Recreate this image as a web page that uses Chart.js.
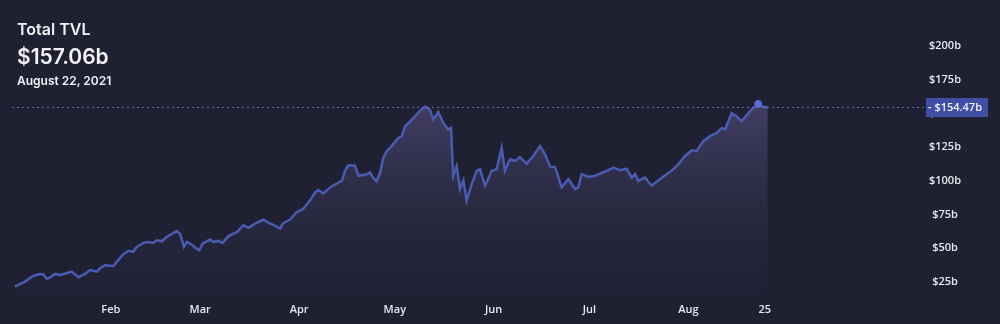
<!DOCTYPE html>
<html>
<head>
<meta charset="utf-8">
<script src="https://cdn.jsdelivr.net/npm/chart.js@4.4.0/dist/chart.umd.min.js"></script>
<style>
  html, body { margin: 0; padding: 0; background: #1f2133; }
  #wrap { position: relative; width: 1000px; height: 324px; overflow: hidden; }
  #tvl-chart { position: absolute; left: 0; top: 0; }
  .head { position: absolute; left: 17px; color: #f2f2f6; font-family: Inter, sans-serif; line-height: 1; white-space: nowrap; }
</style>
</head>
<body>
<div id="wrap">
  <canvas id="tvl-chart" width="1000" height="324"></canvas>
  <div class="head" style="top:20.5px;font-size:16px;font-weight:600">Total TVL</div>
  <div class="head" style="top:45.5px;font-size:21px;font-weight:600">$157.06b</div>
  <div class="head" style="top:74.5px;font-size:12px;font-weight:600">August 22, 2021</div>
</div>
<script>
// days since Jan 1 2021, TVL in billions
var days = [0.9,4.1,6.6,8.8,9.7,10.9,11.9,13.5,15.0,17.1,18.7,20.8,22.9,24.5,26.6,27.6,29.2,31.8,33.3,34.9,
  36.5,38.0,39.1,41.2,42.7,44.3,45.4,46.9,48.5,50.6,51.6,52.7,53.9,54.8,56.3,57.4,58.7,59.8,62.1,63.1,
  64.7,66.0,67.8,69.4,70.6,72.5,74.1,76.2,78.8,80.9,82.4,84.0,85.0,87.1,89.2,91.3,93.4,95.0,96.0,97.6,
  99.7,101.8,103.4,104.4,105.4,107.5,108.6,111.2,112.2,113.3,114.3,115.4,116.4,117.5,119.0,121.1,122.2,123.2,124.8,126.3,
  127.9,129.5,131.0,132.1,133.6,135.2,136.8,137.6,138.3,139.4,140.4,141.5,142.5,144.1,145.7,146.7,148.3,150.4,151.9,153.5,
  154.5,156.1,157.7,159.2,161.3,163.4,165.5,167.1,168.7,170.2,172.3,174.4,176.5,177.5,178.6,180.7,182.8,184.3,186.4,188.5,
  190.6,192.7,194.3,195.3,196.3,198.4,200.5,203.1,205.2,207.3,208.9,211.0,213.1,214.6,216.7,218.8,220.9,222.5,223.5,225.6,
  227.2,228.7,231.3,232.9,233.9,235.0,236.9];
var tvl = [21.5,25.2,29.4,30.9,30.7,27.4,28.2,30.9,30.1,31.4,32.6,28.5,30.9,33.8,32.6,35.1,37.3,36.8,41.2,45.6,
  48.0,47.3,51.0,53.9,54.6,53.9,55.9,55.1,58.3,61.3,62.7,60.8,51.0,54.6,52.7,50.5,48.5,53.5,56.4,54.6,
  55.4,53.9,58.8,60.8,62.0,67.0,65.2,68.2,71.1,68.2,66.7,64.5,68.6,71.1,76.7,79.2,85.3,91.4,93.2,90.7,
  95.1,98.0,100.0,107.4,111.5,111.3,103.7,104.9,106.1,102.0,99.7,106.1,116.9,122.1,125.7,131.8,133.1,140.4,144.1,147.8,
  152.0,155.1,152.7,145.4,151.0,142.9,138.0,139.2,103.7,111.0,93.9,100.5,85.3,97.6,107.4,108.6,96.3,107.4,108.6,124.5,
  107.4,116.0,114.7,117.6,112.7,118.4,125.7,119.6,110.5,110.3,95.1,101.2,93.9,95.1,104.9,102.9,103.7,105.4,107.4,109.8,
  107.9,109.0,102.4,104.9,100.0,102.4,96.3,101.2,104.9,108.6,112.3,118.4,122.6,122.1,129.4,133.1,135.5,139.2,138.0,150.2,
  147.8,144.1,151.5,155.1,157.06,155.1,154.47];

var monthTicks = [31, 59, 90, 120, 151, 181, 212, 236];
var monthLabels = ['Feb', 'Mar', 'Apr', 'May', 'Jun', 'Jul', 'Aug', '25'];
var yTicks = [25, 50, 75, 100, 125, 150, 175, 200];
var hoverIndex = 144;
var lastValue = 154.47;

var lineColor = '#4a5bb2';

var lastLinePlugin = {
  id: 'lastLine',
  afterDraw: function(chart) {
    var ctx = chart.ctx, area = chart.chartArea;
    var y = Math.round(chart.scales.y.getPixelForValue(lastValue)) + 0.5;
    ctx.save();
    ctx.strokeStyle = 'rgba(115,125,200,0.8)';
    ctx.lineWidth = 1;
    ctx.setLineDash([2, 3]);
    ctx.beginPath();
    ctx.moveTo(area.left, y);
    ctx.lineTo(area.right + 8, y);
    ctx.stroke();
    ctx.setLineDash([]);
    ctx.fillStyle = '#3f4fa6';
    ctx.fillRect(area.right + 8, y - 9.5, 62, 19);
    ctx.fillStyle = '#f4f4f8';
    ctx.font = '600 11px "Open Sans", sans-serif';
    ctx.textBaseline = 'middle';
    ctx.textAlign = 'left';
    ctx.fillText('- $154.47b', area.right + 10, y);
    ctx.restore();
  }
};

window.onload = function() {
  var canvas = document.getElementById('tvl-chart');
  new Chart(canvas, {
    type: 'line',
    data: {
      labels: days,
      datasets: [{
        data: days.map(function(d, i) { return { x: d, y: tvl[i] }; }),
        borderColor: lineColor,
        borderWidth: 2.5,
        tension: 0,
        fill: 'start',
        backgroundColor: function(context) {
          var area = context.chart.chartArea;
          if (!area) return 'rgba(70,65,105,0.5)';
          var g = context.chart.ctx.createLinearGradient(0, area.top + 90, 0, area.bottom);
          g.addColorStop(0, 'rgba(80,74,120,0.75)');
          g.addColorStop(1, 'rgba(40,40,60,0.15)');
          return g;
        },
        pointRadius: function(c) { return c.dataIndex === hoverIndex ? 3.5 : 0; },
        pointBackgroundColor: '#5a6dd0',
        pointBorderColor: '#5a6dd0',
        pointBorderWidth: 1
      }]
    },
    options: {
      responsive: false,
      animation: false,
      events: [],
      layout: { padding: { left: 12, right: 24, top: 0, bottom: 4 } },
      plugins: { legend: { display: false }, tooltip: { enabled: false } },
      scales: {
        x: {
          type: 'linear',
          min: 0,
          max: 284,
          grid: { display: false },
          border: { display: false },
          afterBuildTicks: function(scale) {
            scale.ticks = monthTicks.map(function(v) { return { value: v }; });
          },
          ticks: {
            autoSkip: false,
            maxRotation: 0,
            padding: 4,
            color: '#e8e8ee',
            font: { family: '"Open Sans", sans-serif', size: 11, weight: '600' },
            callback: function(v) { return monthLabels[monthTicks.indexOf(v)]; }
          }
        },
        y: {
          position: 'right',
          min: 18.4,
          max: 227,
          grid: { display: false },
          border: { display: false },
          afterBuildTicks: function(scale) {
            scale.ticks = yTicks.map(function(v) { return { value: v }; });
          },
          afterFit: function(scale) { scale.width = 58; },
          ticks: {
            crossAlign: 'center',
            color: '#e8e8ee',
            font: { family: '"Open Sans", sans-serif', size: 11, weight: '600' },
            callback: function(v) { return '$' + v + 'b'; }
          }
        }
      }
    },
    plugins: [lastLinePlugin]
  });
};
</script>
</body>
</html>
